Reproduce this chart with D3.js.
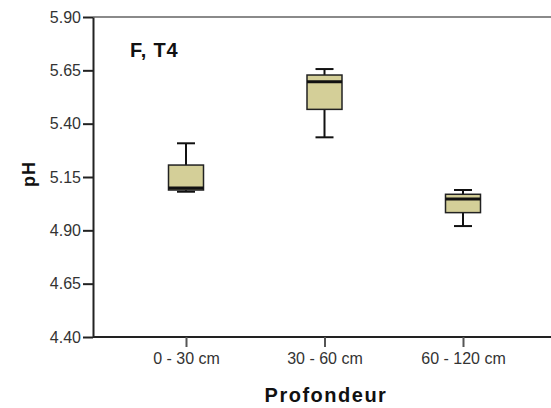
<!DOCTYPE html>
<html>
<head>
<meta charset="utf-8">
<script src="https://cdn.jsdelivr.net/npm/d3@7"></script>
<style>
  body { margin: 0; background: #fff; }
  text { font-family: "Liberation Sans", Arial, sans-serif; }
</style>
</head>
<body>
<svg id="viz-svg" width="551" height="408"></svg>
<script>
// depth classes and box stats
var categories = ["0 - 30 cm", "30 - 60 cm", "60 - 120 cm"]
  , whiskLow  = [5.081, 5.336, 4.920]
  , q1        = [5.089, 5.467, 4.983]
  , median    = [5.098, 5.597, 5.047]
  , q3        = [5.206, 5.628, 5.069]
  , whiskHigh = [5.308, 5.656, 5.089]
  , yTicks    = [4.40, 4.65, 4.90, 5.15, 5.40, 5.65, 5.90]
  ;

var svg = d3.select("#viz-svg")
  , plotL = 93, plotR = 551, plotT = 17, plotB = 337
  , boxW = 35, capW = 18;

var y = d3.scaleLinear().domain([4.40, 5.90]).range([plotB, plotT]);
var x = d3.scalePoint().domain(categories).range([186, 463]);

var boxes = categories.map(function(c, i){
  return {cat: c, lo: whiskLow[i], q1: q1[i], med: median[i], q3: q3[i], hi: whiskHigh[i]};
});

// top frame line (gray)
svg.append("line")
  .attr("x1", plotL).attr("x2", plotR)
  .attr("y1", plotT).attr("y2", plotT)
  .attr("stroke", "#8a8a8a").attr("stroke-width", 2);

// y axis
var yAxis = svg.append("g")
  .attr("transform", "translate(" + plotL + ",0)")
  .call(d3.axisLeft(y).tickValues(yTicks).tickFormat(d3.format(".2f")).tickSize(10).tickSizeOuter(0).tickPadding(2));
yAxis.select(".domain").attr("stroke", "#222").attr("stroke-width", 2);
yAxis.selectAll(".tick line").attr("stroke", "#222").attr("stroke-width", 2);
yAxis.selectAll(".tick text").attr("font-size", 16).attr("fill", "#333")
  .style("font-family", "'Liberation Sans', Arial, sans-serif");

// x axis
var xAxis = svg.append("g")
  .attr("transform", "translate(0," + plotB + ")")
  .call(d3.axisBottom(x).tickSize(10).tickSizeOuter(0).tickPadding(6));
xAxis.select(".domain").attr("d", "M" + plotL + ",0H" + plotR)
  .attr("stroke", "#222").attr("stroke-width", 2);
xAxis.selectAll(".tick line").attr("stroke", "#555").attr("stroke-width", 2);
xAxis.selectAll(".tick text").attr("font-size", 16).attr("fill", "#333")
  .style("font-family", "'Liberation Sans', Arial, sans-serif");

// boxplots
var g = svg.selectAll(".box").data(boxes).enter().append("g").attr("class", "box");

g.append("line") // upper whisker
  .attr("x1", function(d){ return x(d.cat); }).attr("x2", function(d){ return x(d.cat); })
  .attr("y1", function(d){ return y(d.hi); }).attr("y2", function(d){ return y(d.q3); })
  .attr("stroke", "#111").attr("stroke-width", 2);
g.append("line") // lower whisker
  .attr("x1", function(d){ return x(d.cat); }).attr("x2", function(d){ return x(d.cat); })
  .attr("y1", function(d){ return y(d.lo); }).attr("y2", function(d){ return y(d.q1); })
  .attr("stroke", "#111").attr("stroke-width", 2);
g.selectAll(".cap")
  .data(function(d){ return [{cat: d.cat, v: d.hi}, {cat: d.cat, v: d.lo}]; })
  .enter().append("line").attr("class", "cap")
  .attr("x1", function(d){ return x(d.cat) - capW/2; }).attr("x2", function(d){ return x(d.cat) + capW/2; })
  .attr("y1", function(d){ return y(d.v); }).attr("y2", function(d){ return y(d.v); })
  .attr("stroke", "#111").attr("stroke-width", 2);
g.append("rect")
  .attr("x", function(d){ return x(d.cat) - boxW/2; })
  .attr("y", function(d){ return y(d.q3); })
  .attr("width", boxW)
  .attr("height", function(d){ return y(d.q1) - y(d.q3); })
  .attr("fill", "#d4cf98").attr("stroke", "#222").attr("stroke-width", 1.5);
g.append("line") // median
  .attr("x1", function(d){ return x(d.cat) - boxW/2; }).attr("x2", function(d){ return x(d.cat) + boxW/2; })
  .attr("y1", function(d){ return y(d.med); }).attr("y2", function(d){ return y(d.med); })
  .attr("stroke", "#111").attr("stroke-width", 3);

// labels
svg.append("text")
  .attr("x", 130).attr("y", 57)
  .attr("font-size", 20).attr("font-weight", "bold").attr("fill", "#111")
  .style("letter-spacing", "0.8px")
  .text("F, T4");

svg.append("text")
  .attr("transform", "translate(35,174) rotate(-90)")
  .attr("text-anchor", "middle")
  .attr("font-size", 18).attr("font-weight", "bold").attr("fill", "#111")
  .style("letter-spacing", "1px")
  .text("pH");

svg.append("text")
  .attr("x", 326).attr("y", 402)
  .attr("text-anchor", "middle")
  .attr("font-size", 20).attr("font-weight", "bold").attr("fill", "#111")
  .style("letter-spacing", "1.5px")
  .text("Profondeur");
</script>
</body>
</html>
